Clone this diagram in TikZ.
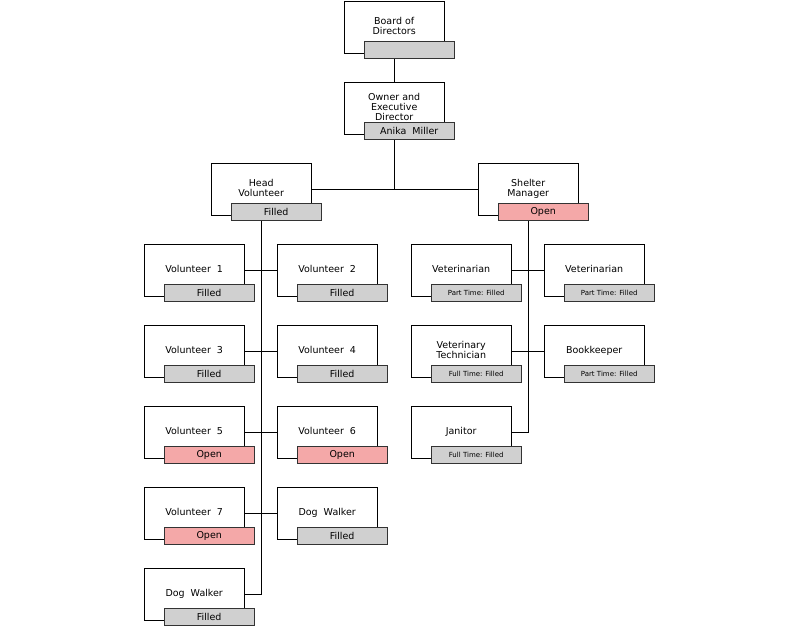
\documentclass[tikz,border=0pt]{standalone}
\usepackage{fontspec}
\setmainfont{DejaVu Sans}
\usetikzlibrary{positioning}
\definecolor{barfill}{HTML}{D0D0D0}
\definecolor{openfill}{HTML}{F4A8A8}
\tikzset{
  box/.style={draw=black, fill=white, minimum width=100pt, minimum height=52pt,
    anchor=north west, align=center, font=\fontsize{9.5}{10}\selectfont, inner sep=0pt},
  bar/.style={draw=black!80, minimum width=90pt, minimum height=17pt, inner sep=0pt,
    anchor=north west, font=\fontsize{9.5}{10}\selectfont},
  small/.style={font=\fontsize{7}{8}\selectfont},
  link/.style={draw=black, line width=0.8pt}
}
% name, x, y, title, status, fill, extra style
\newcommand{\job}[7]{%
  \node[box] (#1) at (#2,#3) {\raisebox{3pt}{\begin{tabular}{@{}c@{}}#4\end{tabular}}};
  \node[bar, fill=#6, #7] (#1b) at ([xshift=20pt,yshift=12pt]#1.south west) {#5};
}
\begin{document}
\begin{tikzpicture}[x=1pt, y=-1pt]
\useasboundingbox (0,0) rectangle (798,633);

% top of the chart
\job{board}{344}{1}{Board of\\Directors}{}{barfill}{}
\job{owner}{344}{82}{Owner and\\Executive\\Director}{Anika\ \ Miller}{barfill}{}
\job{head}{211}{163}{Head\\Volunteer}{Filled}{barfill}{}
\job{shelter}{478}{163}{Shelter\\Manager}{Open}{openfill}{}

% volunteers
\job{vol1}{144}{244}{Volunteer\ \ 1}{Filled}{barfill}{}
\job{vol2}{277}{244}{Volunteer\ \ 2}{Filled}{barfill}{}
\job{vol3}{144}{325}{Volunteer\ \ 3}{Filled}{barfill}{}
\job{vol4}{277}{325}{Volunteer\ \ 4}{Filled}{barfill}{}
\job{vol5}{144}{406}{Volunteer\ \ 5}{Open}{openfill}{}
\job{vol6}{277}{406}{Volunteer\ \ 6}{Open}{openfill}{}
\job{vol7}{144}{487}{Volunteer\ \ 7}{Open}{openfill}{}
\job{dogb}{277}{487}{Dog\ \ Walker}{Filled}{barfill}{}
\job{doga}{144}{568}{Dog\ \ Walker}{Filled}{barfill}{}

% shelter staff
\job{vet1}{411}{244}{Veterinarian}{Part Time: Filled}{barfill}{small}
\job{vet2}{544}{244}{Veterinarian}{Part Time: Filled}{barfill}{small}
\job{tech}{411}{325}{Veterinary\\Technician}{Full Time: Filled}{barfill}{small}
\job{books}{544}{325}{Bookkeeper}{Part Time: Filled}{barfill}{small}
\job{janitor}{411}{406}{Janitor}{Full Time: Filled}{barfill}{small}

% connectors
\draw[link] (board.south |- boardb.south) -- (owner.north);
\draw[link] (owner.south |- ownerb.south) -- (owner.south |- head.east);
\draw[link] (head.east) -- (shelter.west);
\draw[link] (head.south |- headb.south) -- (head.south |- doga.east) -- (doga.east);
\foreach \l/\r in {vol1/vol2, vol3/vol4, vol5/vol6, vol7/dogb, vet1/vet2, tech/books}
  \draw[link] (\l.east) -- (\r.west);
\draw[link] (shelter.south |- shelterb.south) -- (shelter.south |- janitor.east) -- (janitor.east);
\end{tikzpicture}
\end{document}
